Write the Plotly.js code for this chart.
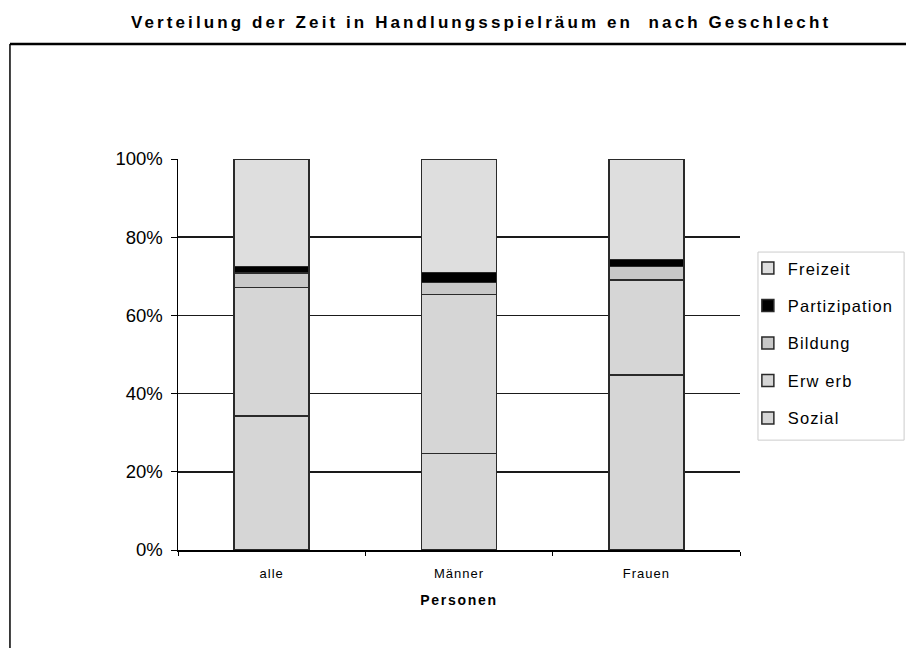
<!DOCTYPE html>
<html><head><meta charset="utf-8">
<script src="https://cdn.plot.ly/plotly-3.0.1.min.js"></script>
<style>body{margin:0;background:#fff}#c{width:906px;height:648px}</style>
</head><body><div id="c"></div>
<script>
const categories = ['alle', 'Männer', 'Frauen'];
const sozial = [34.3, 24.7, 44.8];
const erwerb = [32.9, 40.7, 24.3];
const bildung = [3.6, 3.0, 3.4];
const partizipation = [1.7, 2.6, 1.8];
const freizeit = [27.5, 29.0, 25.7];
const seriesNames = ['Sozial', 'Erw erb', 'Bildung', 'Partizipation', 'Freizeit'];
const seriesValues = [sozial, erwerb, bildung, partizipation, freizeit];
const seriesColors = ['#d6d6d6', '#d6d6d6', '#c8c8c8', '#000000', '#dedede'];
const yTickVals = [0, 20, 40, 60, 80, 100];
const yTickText = ['0%', '20%', '40%', '60%', '80%', '100%'];

const sp = (t, ls) => '<span style="letter-spacing:' + ls + 'px">' + t + '</span>';

const traces = seriesNames.map((n, i) => ({
  type: 'bar', name: sp(n, 1.1), x: categories, y: seriesValues[i],
  legendgroup: 'g' + i, legendrank: seriesNames.length - i,
  marker: {color: seriesColors[i], line: {color: '#2a2a2a', width: 1.5}},
  hoverinfo: 'skip'
}));

const layout = {
  width: 906, height: 648,
  margin: {l: 178, r: 166, t: 159, b: 98, autoexpand: false},
  paper_bgcolor: '#fff', plot_bgcolor: '#fff',
  font: {family: 'Liberation Sans, Arial, sans-serif', color: '#000'},
  barmode: 'stack', bargap: 0.6,
  title: {text: '<b>' + sp('Verteilung der Zeit in Handlungsspielräum en  nach Geschlecht', 3.1) + '</b>',
          font: {size: 17, color: '#000'}, x: 0.531, xanchor: 'center', y: 0.966, yanchor: 'middle'},
  xaxis: {
    type: 'category', showline: true, linecolor: '#000', linewidth: 1.5,
    ticks: 'outside', tickson: 'boundaries', ticklen: 4, tickcolor: '#000',
    tickfont: {size: 13}, showgrid: false, ticklabelstandoff: 11,
    tickvals: categories, ticktext: categories.map(c => sp(c, 1)),
    title: {text: '<b>' + sp('Personen', 1.7) + '</b>', font: {size: 14}, standoff: 15}
  },
  yaxis: {
    range: [0, 100], tickvals: yTickVals,
    ticktext: yTickText,
    showline: true, linecolor: '#000', linewidth: 1.5,
    ticks: 'outside', ticklen: 6, tickcolor: '#000', tickfont: {size: 18.5},
    ticklabelstandoff: 4,
    showgrid: true, gridcolor: '#1a1a1a', gridwidth: 1.5, zeroline: false
  },
  legend: {
    x: 1.014, xanchor: 'left', y: 0.765, yanchor: 'top',
    traceorder: 'grouped', tracegroupgap: 13,
    borderwidth: 0, font: {size: 16.5},
    itemwidth: 30, bgcolor: 'rgba(0,0,0,0)'
  },
  shapes: [
    {type: 'line', xref: 'paper', yref: 'paper', x0: -0.299, x1: 1.3, y0: 1.294, y1: 1.294,
     line: {color: '#000', width: 2.5}},
    {type: 'line', xref: 'paper', yref: 'paper', x0: -0.299, x1: -0.299, y0: 1.294, y1: -0.26,
     line: {color: '#000', width: 1.5}},
    {type: 'rect', xref: 'paper', yref: 'paper', x0: 1.032, x1: 1.292, y0: 0.281, y1: 0.762,
     line: {color: '#cccccc', width: 1}}
  ],
  showlegend: true
};
Plotly.newPlot('c', traces, layout, {staticPlot: true, displayModeBar: false});
</script></body></html>
